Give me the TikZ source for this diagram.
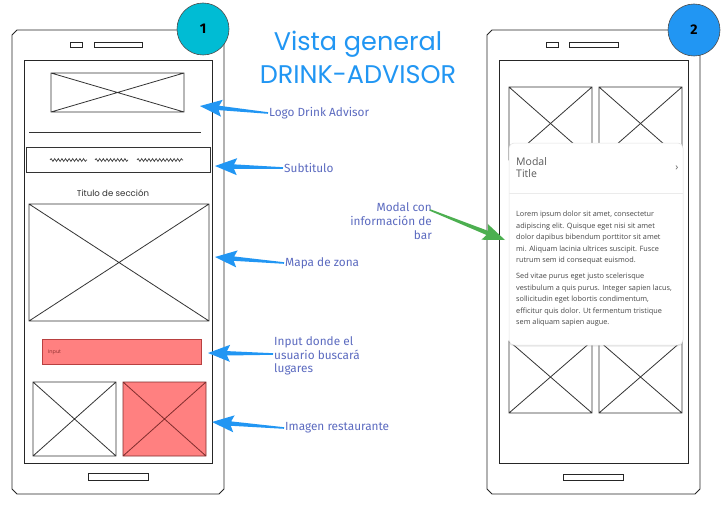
\documentclass[tikz,border=0pt]{standalone}
\usepackage{fontspec}
\setmainfont{Fira Sans}
\newfontfamily\handfont{Poppins}
\newfontfamily\uifont{Open Sans}
\usetikzlibrary{calc,decorations.pathmorphing,shadows}

\definecolor{arrowblue}{RGB}{33,150,243}
\definecolor{labelblue}{RGB}{92,107,192}
\definecolor{arrowgreen}{RGB}{76,175,80}
\definecolor{badgeteal}{RGB}{0,188,212}
\definecolor{badgeblue}{RGB}{33,150,243}
\definecolor{redfill}{RGB}{255,128,128}
\definecolor{redline}{RGB}{184,64,64}
\definecolor{modalgray}{RGB}{90,90,90}
\definecolor{bodygray}{RGB}{70,70,70}

\tikzset{
  phone/.style={draw=black!85, line width=0.9pt, line join=round},
  screen/.style={draw=black!85, line width=0.8pt},
  slot/.style={draw=black!85, line width=0.7pt},
  imgbox/.style={draw=black!80, line width=0.8pt},
  badge/.style={circle, draw=black!70, line width=0.6pt, minimum size=52pt, inner sep=0pt,
                font=\fontsize{14}{14}\selectfont\bfseries},
  label/.style={text=labelblue, font=\fontsize{11.8}{13.8}\selectfont, inner sep=0pt, align=left},
  squiggle/.style={draw=black!75, line width=0.7pt,
                   decorate, decoration={snake, segment length=3.6pt, amplitude=1.4pt}},
}

% tapered arrow: thin tail, wider shaft near a broad triangular head
\newcommand{\taperarrow}[3]{%
  \path ($(#2)!22pt!(#1)$) coordinate (hb) ($(#2)!19pt!(#1)$) coordinate (hj);
  \fill[#3] ($(#1)!0.8pt!90:(#2)$) -- ($(hj)!2.2pt!-90:(#1)$) -- ($(hb)!8.5pt!-90:(#1)$)
    -- (#2) -- ($(hb)!8.5pt!90:(#1)$) -- ($(hj)!2.2pt!90:(#1)$)
    -- ($(#1)!0.8pt!-90:(#2)$) -- cycle;}

% wireframe image placeholder: box with a cross
\newcommand{\xbox}[5][]{%
  \draw[imgbox,#1] (#2,#3) rectangle (#4,#5) (#2,#3) -- (#4,#5) (#2,#5) -- (#4,#3);}

\begin{document}
\begin{tikzpicture}[x=1pt,y=-1pt]
\useasboundingbox (0,0) rectangle (725,508);
\fill[white] (0,0) rectangle (725,508);

% ---------------- phone 1 ----------------
\draw[phone] (12,35) -- (17,30) -- (219,30) -- (224,35) -- (224,489) -- (219,494)
  -- (17,494) -- (12,489) -- cycle;
\draw[screen] (24,60) rectangle (212,463);
\draw[slot] (70,42) rectangle (82,47);
\draw[slot] (94,42) rectangle (142,47);
\draw[slot] (88,473) rectangle (148,480);

\xbox{51}{73}{184}{112}
\draw[black!80, line width=0.9pt] (29,132) -- (201,132);
\draw[imgbox] (26,147) rectangle (210,172);
\draw[squiggle] (50,160) -- (87,160);
\draw[squiggle] (95,160) -- (128,160);
\draw[squiggle] (137,160) -- (183,160);
\node[font=\handfont\fontsize{8.6}{10}\selectfont, text=black!80] (sectitle) at (113,193) {Titulo de sección};
\xbox{29}{204}{209}{321}
\draw[fill=redfill, draw=redline, line width=0.8pt] (42,339) rectangle (201,364);
\node[anchor=west, inner sep=0pt, text=redline!80!black, font=\handfont\fontsize{5}{6}\selectfont] (inputtxt) at (48,352) {Input};
\xbox{33}{382}{116}{456}
\xbox[fill=redfill, draw=redline!70!black]{123}{382}{206}{456}

\node[badge, fill=badgeteal] (b1) at (203,29) {1};

% ---------------- title ----------------
\node[text=arrowblue, align=center, font=\handfont\fontsize{25.5}{33}\selectfont] (title) at (358,57)
  {Vista general\\DRINK-ADVISOR};

% ---------------- callouts for phone 1 ----------------
\node[label, anchor=west] (lbllogo) at (269,113) {Logo Drink Advisor};
\node[label, anchor=west] (lblsub) at (284,168) {Subtitulo};
\node[label, anchor=west] (lblmap) at (285,263) {Mapa de zona};
\node[label, anchor=west] (lblinput) at (274,356) {Input donde el\\usuario buscará\\lugares};
\node[label, anchor=west] (lblimg) at (285,428) {Imagen restaurante};

\coordinate (tiplogo) at (200,106);
\coordinate (tipsub) at (215,166);
\coordinate (tipmap) at (215,257);
\coordinate (tipinput) at (208,353);
\coordinate (tipimg) at (212,422);

\taperarrow{[xshift=-1pt]lbllogo.west}{tiplogo}{arrowblue}
\taperarrow{[xshift=-1pt]lblsub.west}{tipsub}{arrowblue}
\taperarrow{[xshift=-1pt]lblmap.west}{tipmap}{arrowblue}
\taperarrow{[xshift=-1pt,yshift=2pt]lblinput.west}{tipinput}{arrowblue}
\taperarrow{[xshift=-1pt]lblimg.west}{tipimg}{arrowblue}

% ---------------- phone 2 ----------------
\draw[phone] (487,35) -- (492,30) -- (695,30) -- (700,35) -- (700,489) -- (695,494)
  -- (492,494) -- (487,489) -- cycle;
\draw[screen] (499,60) rectangle (688,463);
\draw[slot] (546,42) rectangle (558,47);
\draw[slot] (569,42) rectangle (618,47);
\draw[slot] (563,474) rectangle (623,480);

\xbox{509}{87}{592}{160}
\xbox{599}{87}{682}{160}
\xbox{509}{341}{592}{413}
\xbox{599}{341}{682}{413}

% modal card
\path[fill=white, draw=black!12, line width=0.5pt, rounded corners=5pt,
      drop shadow={opacity=0.18, shadow xshift=0pt, shadow yshift=-1.5pt}]
  (509,143) rectangle (683,345);
\node[anchor=north west, inner sep=0pt, align=left, text=modalgray,
      font=\uifont\fontsize{10.5}{12}\selectfont] (mtitle) at (516,157) {Modal\\Title};
\node[inner sep=0pt, text=modalgray, font=\uifont\fontsize{10}{10}\selectfont] (mchev) at (677,168) {›};
\draw[black!8, line width=0.6pt] (509,193) -- (683,193);
\node[anchor=north west, inner sep=0pt, align=left, text=bodygray,
      font=\uifont\fontsize{7.3}{11.5}\selectfont] (mbody1) at (516,211)
  {Lorem ipsum dolor sit amet, consectetur\\
   adipiscing elit. Quisque eget nisi sit amet\\
   dolor dapibus bibendum porttitor sit amet\\
   mi. Aliquam lacinia ultrices suscipit. Fusce\\
   rutrum sem id consequat euismod.};
\node[anchor=north west, inner sep=0pt, align=left, text=bodygray,
      font=\uifont\fontsize{7.3}{11.5}\selectfont] (mbody2) at (516,273)
  {Sed vitae purus eget justo scelerisque\\
   vestibulum a quis purus. Integer sapien lacus,\\
   sollicitudin eget lobortis condimentum,\\
   efficitur quis dolor. Ut fermentum tristique\\
   sem aliquam sapien augue.};

\node[badge, fill=badgeblue] (b2) at (694,30) {2};

% ---------------- callout for phone 2 ----------------
\node[label, anchor=east, align=right] (lblmodal) at (432,221) {Modal con\\información de\\bar};
\coordinate (tipmodal) at (505,240);
\taperarrow{[xshift=-2pt,yshift=11pt]lblmodal.east}{tipmodal}{arrowgreen}

\end{tikzpicture}
\end{document}
